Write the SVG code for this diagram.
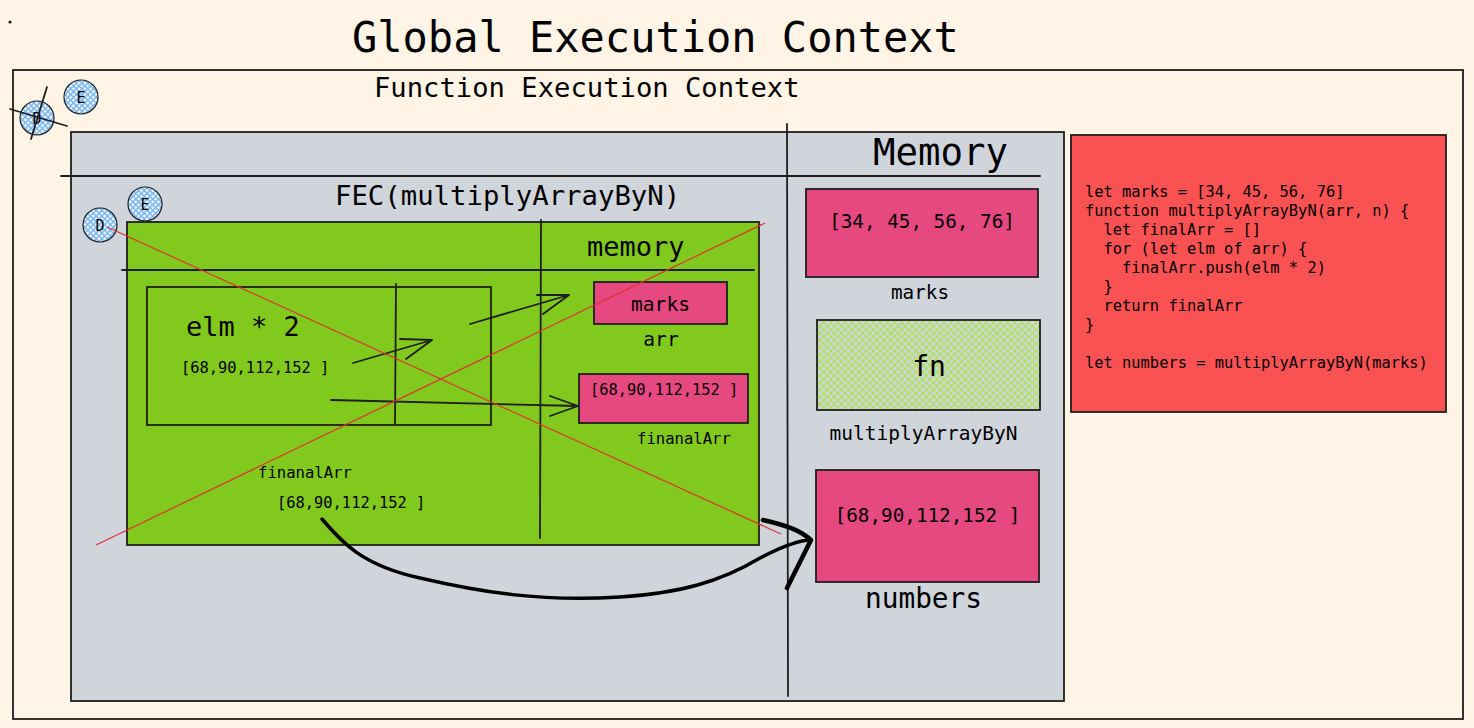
<svg xmlns="http://www.w3.org/2000/svg" width="1474" height="728" viewBox="0 0 1474 728">
<defs>
<style>
.t{font-family:"DejaVu Sans Mono","Liberation Mono",monospace;fill:#000000}
.ln{stroke:#1e1e1e;fill:none;stroke-width:1.8;stroke-linecap:round;stroke-linejoin:round}
.box{stroke:#1e1e1e;stroke-width:1.8}
.pink{fill:#e64980;stroke:#1e1e1e;stroke-width:1.8}
.red{stroke:#e03131;stroke-width:1.2;fill:none}
.circ{fill:url(#blueHatch);stroke:#1e1e1e;stroke-width:1.2}
</style>
<pattern id="blueHatch" width="4" height="4" patternUnits="userSpaceOnUse" patternTransform="rotate(45)">
<rect width="4" height="4" fill="#ffffff"/>
<rect width="4" height="1.5" fill="#74b4f0"/>
<rect width="1.5" height="4" fill="#74b4f0"/>
</pattern>
<pattern id="greenHatch" width="5" height="5" patternUnits="userSpaceOnUse" patternTransform="rotate(45)">
<rect width="5" height="5" fill="#d0d5dc"/>
<rect width="5" height="1.2" fill="#a9e34b"/>
<rect width="1.2" height="5" fill="#a9e34b"/>
</pattern>
</defs>
<rect width="1474" height="728" fill="#fff4e6"/>
<circle cx="10" cy="22" r="1.6" fill="#1e1e1e"/>
<g id="title"><text class="t" x="352" y="52" font-size="42">Global Execution Context</text></g>
<g id="global-context">
<rect x="13" y="70" width="1450" height="649" fill="none" class="box"/>
<text class="t" x="374" y="97" font-size="27.2">Function Execution Context</text>
</g>
<g id="outer-markers">
<circle class="circ" cx="81" cy="97" r="17"/>
<text class="t" x="81" y="103" font-size="15" text-anchor="middle">E</text>
<circle class="circ" cx="37" cy="118" r="17"/>
<text class="t" x="37" y="124" font-size="15" text-anchor="middle">D</text>
<path class="ln" d="M47,87 L31,139 M10,109 L67,126"/>
</g>
<g id="fec-box">
<rect x="71" y="132" width="993" height="569" fill="#d0d5dc" class="box"/>
<path class="ln" d="M61,176 L1040,176 M787,124 L788,696"/>
<text class="t" x="873" y="165" font-size="37.4">Memory</text>
<text class="t" x="335" y="205" font-size="27.3">FEC(multiplyArrayByN)</text>
</g>
<g id="inner-markers">
<circle class="circ" cx="145" cy="204" r="17"/>
<text class="t" x="145" y="210" font-size="15" text-anchor="middle">E</text>
<circle class="circ" cx="100" cy="225" r="17"/>
<text class="t" x="100" y="231" font-size="15" text-anchor="middle">D</text>
</g>
<g id="fec-inner">
<rect x="127" y="222" width="632" height="323" fill="#82c91e" class="box"/>
<path class="ln" d="M122,270 L754,270 M541,220 L540,538"/>
<text class="t" x="587" y="256" font-size="27">memory</text>
</g>
<g id="loop-box">
<rect x="147" y="287" width="344" height="138" fill="none" class="box"/>
<path class="ln" d="M396,284 L395,425"/>
<text class="t" x="186" y="336" font-size="27">elm * 2</text>
<text class="t" x="181" y="373" font-size="15.4">[68,90,112,152 ]</text>
</g>
<g id="arr-node">
<rect x="594" y="282" width="133" height="42" class="pink"/>
<text class="t" x="660.5" y="311" font-size="19.6" text-anchor="middle">marks</text>
<text class="t" x="661" y="346" font-size="19.6" text-anchor="middle">arr</text>
</g>
<g id="finalarr-node">
<rect x="579" y="374" width="169" height="49" class="pink"/>
<text class="t" x="590" y="395" font-size="15.4">[68,90,112,152 ]</text>
<text class="t" x="637" y="444" font-size="15.6">finanalArr</text>
</g>
<g id="return-value">
<text class="t" x="258" y="478" font-size="15.6">finanalArr</text>
<text class="t" x="277" y="508" font-size="15.4">[68,90,112,152 ]</text>
</g>
<g id="marks-mem">
<rect x="806" y="189" width="232" height="88" class="pink"/>
<text class="t" x="922" y="228" font-size="19.3" text-anchor="middle">[34, 45, 56, 76]</text>
<text class="t" x="920" y="299" font-size="19.3" text-anchor="middle">marks</text>
</g>
<g id="fn-mem">
<rect x="817" y="320" width="223" height="90" fill="url(#greenHatch)" class="box"/>
<text class="t" x="929" y="376" font-size="28" text-anchor="middle">fn</text>
<text class="t" x="923.5" y="440" font-size="19.5" text-anchor="middle">multiplyArrayByN</text>
</g>
<g id="numbers-mem">
<rect x="816" y="470" width="223" height="112" class="pink"/>
<text class="t" x="927.5" y="522" font-size="19.3" text-anchor="middle">[68,90,112,152 ]</text>
<text class="t" x="923.5" y="608" font-size="27.8" text-anchor="middle">numbers</text>
</g>
<g id="code">
<rect x="1071" y="135" width="375" height="277" fill="#fa5252" class="box"/>
<g class="t" font-size="15.4">
<text x="1085" y="197" xml:space="preserve">let marks = [34, 45, 56, 76]</text>
<text x="1085" y="216" xml:space="preserve">function multiplyArrayByN(arr, n) {</text>
<text x="1085" y="235" xml:space="preserve">  let finalArr = []</text>
<text x="1085" y="254" xml:space="preserve">  for (let elm of arr) {</text>
<text x="1085" y="273" xml:space="preserve">    finalArr.push(elm * 2)</text>
<text x="1085" y="292" xml:space="preserve">  }</text>
<text x="1085" y="311" xml:space="preserve">  return finalArr</text>
<text x="1085" y="330" xml:space="preserve">}</text>
<text x="1085" y="368" xml:space="preserve">let numbers = multiplyArrayByN(marks)</text>
</g>
</g>
<g id="connectors">
<path class="ln" d="M353,363 L432,340 M400,339 L432,340 L406,359"/>
<path class="ln" d="M470,324 L569,295 M537,295 L569,295 L543,314"/>
<path class="ln" d="M331,400 L578,406 M550,396 L578,406 L550,416"/>
<path d="M322,519 C340,540 360,565 420,578 C480,592 540,602 620,597 C680,593 720,582 760,558 C785,545 800,540 811,540" fill="none" stroke="#000" stroke-width="3.5" stroke-linecap="round"/>
<path d="M763,520 C785,525 800,530 811,540 L787,588" fill="none" stroke="#000" stroke-width="4.5" stroke-linecap="round" stroke-linejoin="round"/>
</g>
<g id="strike">
<path class="red" d="M107,227 L781,534 M96,545 L765,223"/>
</g>
</svg>
